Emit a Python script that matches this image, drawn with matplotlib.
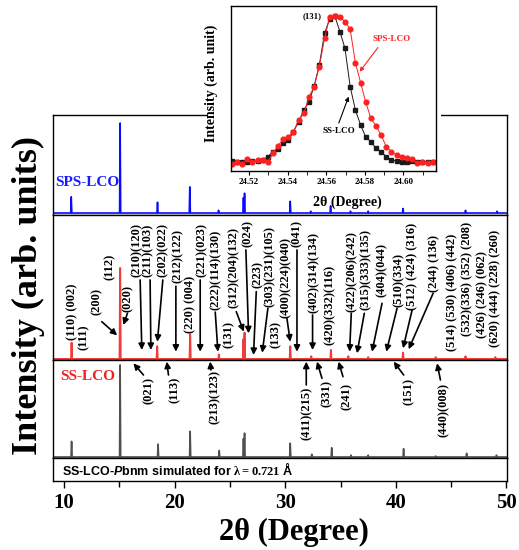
import matplotlib
matplotlib.use('Agg')
import matplotlib.pyplot as plt
from matplotlib.patches import Rectangle

plt.rcParams['font.family'] = ['Liberation Serif', 'DejaVu Serif']
plt.rcParams['font.weight'] = 'bold'
plt.rcParams['axes.labelweight'] = 'bold'
plt.rcParams['mathtext.fontset'] = 'custom'
plt.rcParams['mathtext.it'] = 'Liberation Sans:bold:italic'
plt.rcParams['mathtext.bf'] = 'Liberation Serif:bold'
plt.rcParams['axes.linewidth'] = 1.0

# peak positions (2theta, deg) and relative heights of the three patterns
sps_pos = [10.65, 15.07, 18.45, 21.37, 23.97, 26.22, 26.32, 30.45, 32.3, 34.1, 35.9, 37.5, 40.65, 46.3, 49.16]
sps_int = [18, 100, 12, 29, 3, 17, 22, 13, 2, 8, 2, 2, 5, 3, 2]
ss_pos = [10.68, 15.07, 18.42, 21.4, 24.0, 26.22, 26.32, 30.45, 32.35, 34.13, 35.7, 37.5, 40.65, 43.6, 46.3, 49.0]
ss_int = [18, 100, 14, 27, 5, 22, 29, 14, 3, 10, 3, 2, 7, 2, 3, 2]
sim_pos = [10.68, 15.07, 18.5, 21.4, 24.03, 26.22, 26.32, 30.45, 32.4, 34.2, 35.95, 37.5, 40.7, 43.6, 46.4, 49.1]
sim_int = [17, 100, 14, 28, 7, 20, 26, 15, 3, 10, 2, 2, 9, 1, 4, 2]

# inset: (131) reflection, scan points
inset_tt = [24.5110, 24.5137, 24.5163, 24.5190, 24.5217, 24.5244, 24.5270, 24.5297, 24.5324, 24.5350,
            24.5377, 24.5404, 24.5430, 24.5457, 24.5484, 24.5511, 24.5537, 24.5564, 24.5591, 24.5617,
            24.5644, 24.5671, 24.5697, 24.5724, 24.5751, 24.5778, 24.5804, 24.5831, 24.5858, 24.5884,
            24.5911, 24.5938, 24.5964, 24.5991, 24.6018, 24.6045, 24.6071, 24.6098, 24.6125, 24.6151]
inset_ss = [1.6, 0.7, 0.7, 1.1, 1.6, 1.6, 2.3, 4.5, 8.0, 9.8,
            13.6, 15.9, 21.6, 28.4, 36.4, 42.0, 52.7, 67.0, 88.6, 98.2,
            100.5, 89.8, 78.4, 52.3, 36.4, 26.1, 18.2, 14.8, 10.2, 8.0,
            4.5, 2.3, 1.6, 0.7, 1.1, 1.6, 0.7, 1.1, 1.1, 1.1]
inset_sps = [-0.7, 0.7, -0.7, 2.7, 0.7, 2.3, 2.3, 0.7, 6.8, 12.0,
             16.4, 18.2, 21.6, 29.5, 34.1, 45.5, 52.3, 65.9, 85.2, 99.5,
             100.5, 100.0, 96.6, 91.4, 68.6, 55.0, 42.0, 30.7, 25.5, 19.3,
             11.4, 8.0, 5.7, 4.5, 3.4, 2.7, 0.5, 1.1, 0.5, 1.1]

# hkl labels above the SPS pattern: text, x, y(bottom), arrow (x0, y0, x1, y1)
hkl_above = [
    ('(110) (002)', 10.75, 20.9, None),
    ('(111)', 11.75, 9.9, None),
    ('(200)', 12.96, 48.4, (13.41, 41, 14.8, 26)),
    ('(112)', 14.1, 86.8, None),
    ('(020)', 15.73, 51.6, (15.73, 50.2, 15.37, 37.4)),
    ('(210)(120)', 16.58, 90.1, (16.88, 86.8, 17.03, 9.9)),
    ('(211)(103)', 17.54, 90.1, (17.78, 86.8, 17.85, 9.9)),
    ('(202)(022)', 18.9, 90.1, (18.93, 86.8, 18.44, 19)),
    ('(212)(122)', 20.25, 83.5, (20.11, 80, 20.11, 8)),
    ('(220) (004)', 21.4, 28.6, None),
    ('(221)(023)', 22.46, 90.1, (22.31, 86.8, 22.31, 8)),
    ('(222)(114)(130)', 23.76, 53.8, (23.67, 51.5, 23.91, 8)),
    ('(131)', 24.87, 12.1, None),
    ('(312)(204)(132)', 25.32, 56, (25.57, 52, 26.25, 30)),
    ('(024)', 26.59, 123, (26.44, 119.8, 26.68, 28.2)),
    ('(223)', 27.49, 78, (27.38, 74, 27.13, 4.4)),
    ('(303)(231)(105)', 28.58, 57.1, (28.43, 55.7, 27.92, 6.9)),
    ('(133)', 29.1, 12.1, None),
    ('(400)(224)(040)', 30.09, 45, (30.15, 44.7, 30.45, 19)),
    ('(041)', 31.0, 123, (31.06, 119.8, 31.06, 8)),
    ('(402)(314)(134)', 32.56, 50.5, (32.47, 48.4, 32.47, 9.9)),
    ('(420)(332)(116)', 34.07, 15.4, None),
    ('(422)(206)(242)', 36.04, 51.6, (35.97, 50.2, 35.82, 8)),
    ('(315)(333)(135)', 37.24, 53.8, (37.15, 50.2, 36.49, 6.3)),
    ('(404)(044)', 38.75, 68.1, (38.75, 61.2, 37.85, 8)),
    ('(510)(334)', 40.25, 57.1, (40.11, 55.7, 39.14, 8)),
    ('(512) (424) (316)', 41.47, 53.8, (41.47, 53.8, 40.65, 11.8)),
    ('(244) (136)', 43.51, 73.6, (43.37, 72.2, 41.16, 10.7)),
    ('(514) (530) (406) (442)', 45.09, 8.8, None),
    ('(532)(336) (352) (208)', 46.44, 25.3, None),
    ('(426) (246) (062)', 47.8, 23.1, None),
    ('(620) (444) (228) (260)', 49.0, 13.2, None),
]
# hkl labels below the SPS pattern (in the simulated panel): text, x, y(top), arrow
hkl_below = [
    ('(021)', 17.63, 87, (17.18, 89.1, 16.27, 101.8)),
    ('(113)', 20.05, 87, (19.44, 89.1, 19.29, 103.6)),
    ('(213)(123)', 23.67, 94.6, (23.28, 94.6, 23.21, 103.6)),
    ('(411)(215)', 31.96, 76, (31.9, 78.3, 31.9, 103.6)),
    ('(331)', 33.71, 83.7, (33.32, 85.5, 32.87, 103.6)),
    ('(241)', 35.58, 80.4, (35.22, 87.3, 34.82, 103.6)),
    ('(151)', 41.16, 85.9, (40.71, 89.1, 39.8, 103.6)),
    ('(440)(008)', 44.33, 80.4, (44.03, 83.7, 43.73, 101.8)),
]


def pattern(pos, inten, hw=0.05):
    x = [9.0]
    y = [0.0]
    for p, h in zip(pos, inten):
        x += [p - hw, p, p + hw]
        y += [0.0, h, 0.0]
    x.append(50.1)
    y.append(0.0)
    return x, y


fig = plt.figure(figsize=(5.19, 5.5), dpi=100)
W_PX, H_PX = 519.0, 550.0


def panel(top, bot):
    return fig.add_axes([53 / W_PX, 1 - bot / H_PX, 454 / W_PX, (bot - top) / H_PX])


ax_sps = panel(115, 215)
ax_ss = panel(215, 360)
ax_sim = panel(360, 458)
ax_txt = panel(458, 481)

for ax in (ax_sps, ax_ss, ax_sim, ax_txt):
    ax.set_xlim(9.0, 50.05)
    ax.set_yticks([])
for ax in (ax_sps, ax_ss, ax_sim):
    ax.tick_params(bottom=False, labelbottom=False)

x, y = pattern(sps_pos, sps_int)
ax_sps.plot(x, y, color='#0a0aff', lw=1.2)
ax_sps.set_ylim(-2.2, 108.9)
ax_sps.text(0.004, 0.32, 'SPS-LCO', color='#1a1aff', fontsize=11, transform=ax_sps.transAxes,
            ha='left', va='center')

x, y = pattern(ss_pos, ss_int)
ax_ss.plot(x, y, color='#f03c3c', lw=1.4)
ax_ss.set_ylim(-1.1, 158.2)

x, y = pattern(sim_pos, sim_int)
ax_sim.plot(x, y, color='#505050', lw=1.2)
ax_sim.set_ylim(-1.1, 105.4)
ax_sim.text(0.015, 0.83, 'SS-LCO', color='#ee2222', fontsize=11, transform=ax_sim.transAxes,
            ha='left', va='center')

arrow = dict(arrowstyle='-|>', color='k', lw=1.2, mutation_scale=9, shrinkA=0, shrinkB=0)
for txt, lx, ly, arr in hkl_above:
    ax_ss.text(lx, ly, txt, rotation=90, fontsize=9, ha='center', va='bottom')
    if arr:
        ax_ss.annotate('', xy=(arr[2], arr[3]), xytext=(arr[0], arr[1]), arrowprops=arrow,
                       annotation_clip=False)
for txt, lx, ly, arr in hkl_below:
    ax_sim.text(lx, ly, txt, rotation=90, fontsize=9, ha='center', va='top')
    if arr:
        ax_sim.annotate('', xy=(arr[2], arr[3]), xytext=(arr[0], arr[1]), arrowprops=arrow,
                        annotation_clip=False)

ax_txt.set_xticks([10, 20, 30, 40, 50])
ax_txt.set_xticks([15, 25, 35, 45], minor=True)
ax_txt.tick_params(axis='x', which='both', direction='out', width=1, labelsize=15, pad=4)
ax_txt.tick_params(axis='x', which='major', length=5)
ax_txt.tick_params(axis='x', which='minor', length=4)
for lab in ax_txt.get_xticklabels():
    lab.set_fontweight('bold')
ax_txt.set_xlabel('2θ (Degree)', fontsize=22, fontweight='bold')
ax_txt.xaxis.set_label_coords(0.531, -1.62)
ax_txt.text(0.02, 0.5, r'SS-LCO-$\mathit{P}$bnm simulated for $\mathbf{\lambda = 0.721}$ Å',
            family='Liberation Sans', fontsize=9, weight='bold', transform=ax_txt.transAxes,
            ha='left', va='center')

fig.text(0.054, 0.4636, 'Intensity (arb. units)', rotation=90, fontsize=26, fontweight='bold',
         ha='center', va='center')

# white backing behind the inset
fig.add_artist(Rectangle((208 / W_PX, 1 - 190 / H_PX), 233 / W_PX, 190 / H_PX,
                         transform=fig.transFigure, facecolor='white', edgecolor='none', zorder=2))

ax_in = fig.add_axes([230.7 / W_PX, 1 - 170.7 / H_PX, 205 / W_PX, 164.7 / H_PX], zorder=3)
ax_in.plot(inset_tt, inset_ss, color='#1a1a1a', marker='s', ms=3.2, lw=0.7)
ax_in.plot(inset_tt, inset_sps, color='#ff2020', marker='o', ms=3.4, lw=0.7)
ax_in.set_xlim(24.5105, 24.6167)
ax_in.set_ylim(-5, 107.3)
ax_in.set_yticks([])
ax_in.set_xticks([24.52, 24.54, 24.56, 24.58, 24.60])
ax_in.set_xticks([24.53, 24.55, 24.57, 24.59, 24.61], minor=True)
ax_in.tick_params(axis='x', which='both', direction='out', length=3, labelsize=6.5, pad=2)
for lab in ax_in.get_xticklabels():
    lab.set_fontweight('bold')
ax_in.set_xlabel('2θ (Degree)', fontsize=10, fontweight='bold')
ax_in.xaxis.set_label_coords(0.567, -0.15)
ax_in.set_ylabel('Intensity (arb. unit)', fontsize=10, fontweight='bold')
ax_in.yaxis.set_label_coords(-0.062, 0.53)
ax_in.text(24.5527, 100.5, '(131)', fontsize=6.3, ha='center', va='center')
ax_in.text(24.594, 84.5, 'SPS-LCO', color='#ff2020', fontsize=6.5, ha='center', va='center')
ax_in.annotate('', xy=(24.5773, 62.5), xytext=(24.5868, 79.0),
               arrowprops=dict(arrowstyle='-|>', color='#ff2020', lw=0.8, mutation_scale=6,
                               shrinkA=0, shrinkB=0))
ax_in.text(24.5665, 22, 'SS-LCO', fontsize=6.5, ha='center', va='center')
ax_in.annotate('', xy=(24.5716, 45.5), xytext=(24.5665, 27.5),
               arrowprops=dict(arrowstyle='-|>', color='k', lw=0.8, mutation_scale=6,
                               shrinkA=0, shrinkB=0))

fig.savefig('out.png', dpi=100)
